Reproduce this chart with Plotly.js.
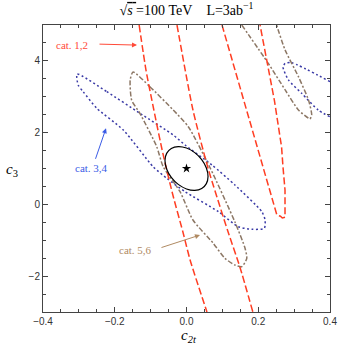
<!DOCTYPE html>
<html><head><meta charset="utf-8">
<script src="https://cdn.plot.ly/plotly-3.0.1.min.js"></script>
<style>html,body{margin:0;padding:0;background:#fff}</style>
</head><body>
<div id="chart" style="width:338px;height:347px"></div>
<script>
// cat. 1,2 (red dashed) contour pieces
const cat12_a_x = [-0.132, -0.113, -0.091, -0.066, -0.038, -0.010, 0.010, 0.057];
const cat12_a_y = [5.0, 3.746, 2.63, 1.43, 0.26, -0.77, -1.55, -3.0];
const cat12_b_x = [-0.0265, 0.018, 0.060, 0.116, 0.149, 0.185];
const cat12_b_y = [5.0, 2.63, 1.01, -0.77, -1.75, -3.0];
const cat12_c_x = [0.099, 0.155, 0.2105, 0.252, 0.262, 0.267, 0.2746, 0.2746, 0.269, 0.265, 0.245, 0.233, 0.205];
const cat12_c_y = [5.0, 3.05, 1.10, -0.30, -0.33, -0.38, -0.36, 0.40, 1.04, 1.60, 2.90, 3.55, 5.0];
// cat. 3,4 (blue dotted)
const cat34_a_x = [-0.305, -0.222, -0.130, -0.037, -0.004, 0.071, 0.135, 0.210, 0.219, 0.217, 0.182, 0.144, 0.089, -0.004, -0.055, -0.093, -0.176, -0.250, -0.288, -0.302, -0.305];
const cat34_a_y = [3.634, 3.141, 2.539, 1.934, 1.655, 1.098, 0.540, -0.204, -0.436, -0.667, -0.695, -0.622, -0.204, 0.353, 0.727, 1.05, 2.073, 2.678, 3.141, 3.328, 3.634];
const cat34_b_x = [0.40, 0.293, 0.275, 0.269, 0.284, 0.321, 0.367, 0.40];
const cat34_b_y = [3.42, 3.95, 3.93, 3.83, 3.47, 3.096, 2.63, 2.44];
// cat. 5,6 (brown dash-dot)
const cat56_a_x = [-0.149, -0.102, -0.037, 0.005, 0.066, 0.135, 0.163, 0.168, 0.154, 0.135, 0.107, 0.074, 0.018, -0.018, -0.065, -0.083, -0.130, -0.153, -0.157, -0.149];
const cat56_a_y = [3.69, 3.28, 2.63, 2.165, 1.014, -0.491, -1.216, -1.503, -1.737, -1.69, -1.503, -1.077, -0.436, 0.353, 1.05, 1.608, 2.539, 2.909, 3.467, 3.69];
const cat56_b_x = [0.154, 0.228, 0.275, 0.312, 0.340, 0.344, 0.349, 0.340, 0.312, 0.275, 0.251];
const cat56_b_y = [5.0, 3.93, 3.19, 2.63, 2.40, 2.38, 2.49, 2.91, 3.56, 4.30, 5.0];
// combined (black solid) ellipse
const comb_x = [0.060, 0.0554, 0.0424, 0.023, 0.0, -0.023, -0.0424, -0.0554, -0.060, -0.0554, -0.0424, -0.023, 0.0, 0.023, 0.0424, 0.0554, 0.060];
const comb_y = [0.78, 1.015, 1.247, 1.443, 1.57, 1.611, 1.559, 1.421, 1.22, 0.985, 0.753, 0.557, 0.43, 0.389, 0.441, 0.579, 0.78];
// SM point
const sm_x = [0];
const sm_y = [1];
const xTicks = [-0.4, -0.2, 0.0, 0.2, 0.4];
const xTickText = ['\u22120.4', '\u22120.2', '0.0', '0.2', '0.4'];
const yTicks = [-2, 0, 2, 4];
const yTickText = ['\u22122', '0', '2', '4'];

const RED = '#ff3d22', BLUE = '#3a3aa6', BROWN = '#8c7765';
function tr(x, y, color, dash, shape, w) {
  return {x: x, y: y, type: 'scatter', mode: 'lines', hoverinfo: 'skip',
    line: {color: color, width: w || 1.5, dash: dash, shape: shape || 'spline', smoothing: 0.6}};
}
const data = [
  tr(cat34_a_x, cat34_a_y, BLUE, '2px,2.5px'),
  tr(cat34_b_x, cat34_b_y, BLUE, '2px,2.5px'),
  tr(cat56_a_x, cat56_a_y, BROWN, '5px,2px,2px,2px'),
  tr(cat56_b_x, cat56_b_y, BROWN, '5px,2px,2px,2px'),
  tr(cat12_a_x, cat12_a_y, RED, '7px,3px'),
  tr(cat12_b_x, cat12_b_y, RED, '7px,3px'),
  tr(cat12_c_x, cat12_c_y, RED, '7px,3px', 'linear'),
  tr(comb_x, comb_y, '#000', 'solid', 'spline', 1.2),
  {x: sm_x, y: sm_y, type: 'scatter', mode: 'markers', hoverinfo: 'skip',
   marker: {symbol: 'star', size: 7, color: '#000'}}
];
const SERIF = 'Liberation Serif, Times New Roman, serif';
const axisCommon = {
  showgrid: false, zeroline: false, showline: true, mirror: 'ticks',
  linecolor: '#444', linewidth: 1, ticks: 'inside', ticklen: 5, tickcolor: '#444', tickwidth: 1,
  tickfont: {family: 'Liberation Sans, Arial, sans-serif', size: 10, color: '#333'}
};
const layout = {
  width: 338, height: 347,
  margin: {l: 43, r: 8, t: 25, b: 35},
  paper_bgcolor: '#fff', plot_bgcolor: '#fff',
  showlegend: false,
  title: {text: '\u221a<span style="text-decoration:overline"><i>s</i>\u00a0</span>=100\u00a0TeV\u00a0\u00a0\u00a0\u00a0L=3ab<sup>\u22121</sup>',
    font: {family: SERIF, size: 14, color: '#000'},
    x: 0.5, xref: 'paper', xanchor: 'center', y: 1 - 10/347, yref: 'container', yanchor: 'middle'},
  xaxis: Object.assign({}, axisCommon, {range: [-0.4, 0.4], tickvals: xTicks, ticktext: xTickText,
    minor: {dtick: 0.05, ticks: 'inside', ticklen: 3, tickcolor: '#444', showgrid: false}}),
  yaxis: Object.assign({}, axisCommon, {range: [-3, 5], tickvals: yTicks, ticktext: yTickText,
    minor: {dtick: 0.5, ticks: 'inside', ticklen: 3, tickcolor: '#444', showgrid: false}}),
  annotations: [
    {xref: 'paper', yref: 'paper', x: (12-43)/287, y: (312-170)/287, xanchor: 'center', yanchor: 'middle', showarrow: false,
     text: '<i>c</i><sub>3</sub>', font: {family: SERIF, size: 15, color: '#000'}},
    {xref: 'paper', yref: 'paper', x: (189-43)/287, y: (312-336)/287, xanchor: 'center', yanchor: 'middle', showarrow: false,
     text: '<i>c</i><sub><i>2t</i></sub>', font: {family: SERIF, size: 15, color: '#000'}},
    {x: -0.318, y: 4.44, showarrow: false, xanchor: 'center', yanchor: 'middle', text: 'cat. 1,2', font: {family: SERIF, size: 11, color: '#ff4a38'}},
    {x: -0.138, y: 4.44, ax: -39, ay: -1, text: '', showarrow: true, arrowhead: 2, arrowsize: 1, arrowwidth: 1, arrowcolor: '#ff4a38'},
    {x: -0.266, y: 1.014, showarrow: false, xanchor: 'center', yanchor: 'middle', text: 'cat. 3,4', font: {family: SERIF, size: 11, color: '#3b5ce6'}},
    {x: -0.2244, y: 2.12, ax: -11, ay: 32, text: '', showarrow: true, arrowhead: 2, arrowsize: 1, arrowwidth: 1, arrowcolor: '#3b5ce6'},
    {x: -0.142, y: -1.272, showarrow: false, xanchor: 'center', yanchor: 'middle', text: 'cat. 5,6', font: {family: SERIF, size: 11, color: '#b08a62'}},
    {x: 0.0376, y: -0.854, ax: -40, ay: 13, text: '', showarrow: true, arrowhead: 2, arrowsize: 1, arrowwidth: 1, arrowcolor: '#b08a62'}
  ]
};
Plotly.newPlot('chart', data, layout, {staticPlot: true, displayModeBar: false});
</script>
</body></html>
